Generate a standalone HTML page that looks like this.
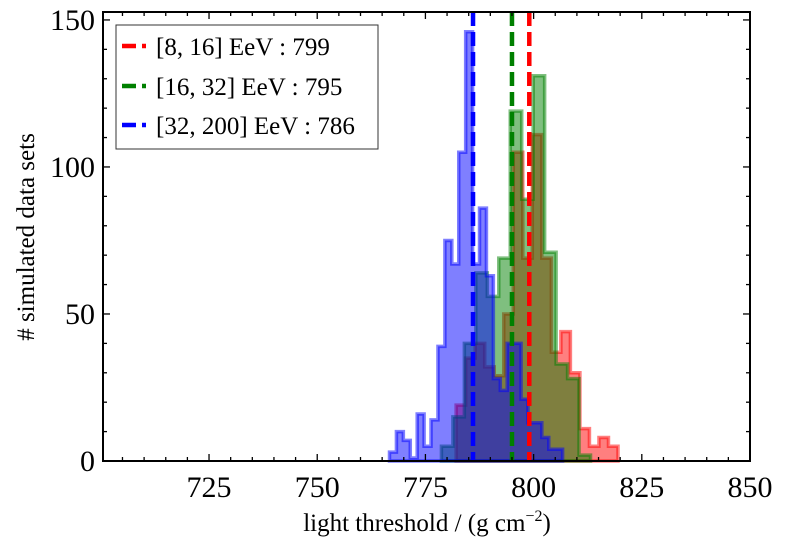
<!DOCTYPE html>
<html><head><meta charset="utf-8"><style>
body{margin:0;background:#fff}
svg text{font-family:"Liberation Serif","DejaVu Serif",serif;fill:#000}
</style></head><body>
<svg id="chart" width="786" height="550" viewBox="0 0 786 550"></svg>
<script>
const xDomain=[700.5,850], yDomain=[0,152.7];
const xTicks=[725,750,775,800,825,850];
const yTicks=[0,50,100,150];
const redStart=782.1, redWidth=2.2;
const redCounts=[19,35,40,32,29,50,105,69,111,69,37,44,30,11,5,8,5];
const greenStart=778.7, greenWidth=2.65;
const greenCounts=[5,15,40,64,56,69,119,89,131,71,33,28,2];
const blueStart=766.7, blueWidth=1.6;
const blueCounts=[3,10,7,1,16,5,14,39,75,67,105,146,67,86,63,28,24,40,40,21,13,13,8,4,4];
const medians=[799,795,786];
const seriesColors=["#ff0000","#008000","#0000ff"];

const L=103,R=750,T=12,B=461;
const sx=v=>L+(v-xDomain[0])/(xDomain[1]-xDomain[0])*(R-L);
const sy=v=>B-(v-yDomain[0])/(yDomain[1]-yDomain[0])*(B-T);
const svg=document.getElementById('chart');
const NS='http://www.w3.org/2000/svg';
function mk(tag,attrs,parent){const e=document.createElementNS(NS,tag);for(const k in attrs)e.setAttribute(k,attrs[k]);(parent||svg).appendChild(e);return e;}

function hist(start,width,counts,color,name){
  let d='M'+sx(start)+','+sy(0);
  counts.forEach((c,i)=>{d+=' L'+sx(start+i*width)+','+sy(c)+' L'+sx(start+(i+1)*width)+','+sy(c);});
  d+=' L'+sx(start+counts.length*width)+','+sy(0)+' Z';
  const p=mk('path',{d:d,fill:color,'fill-opacity':0.5,stroke:color,'stroke-opacity':0.5,'stroke-width':3.5,'stroke-linejoin':'miter'});
  
  
}
hist(redStart,redWidth,redCounts,seriesColors[0],'histogram-8-16-eev');
hist(greenStart,greenWidth,greenCounts,seriesColors[1],'histogram-16-32-eev');
hist(blueStart,blueWidth,blueCounts,seriesColors[2],'histogram-32-200-eev');

medians.forEach((m,i)=>{
  const l=mk('line',{x1:sx(m),x2:sx(m),y1:T,y2:B,stroke:seriesColors[i],'stroke-width':4.5,'stroke-dasharray':'14,6'});
  
  
});

const frame=mk('rect',{x:L,y:T,width:R-L,height:B-T,fill:'none',stroke:'#000','stroke-width':2});



for(let v=705;v<=850;v+=5){
  const major=xTicks.includes(v), len=major?7:4;
  mk('line',{x1:sx(v),x2:sx(v),y1:B,y2:B-len,stroke:'#000','stroke-width':1.3});
  mk('line',{x1:sx(v),x2:sx(v),y1:T,y2:T+len,stroke:'#000','stroke-width':1.3});
}
xTicks.forEach(v=>{
  const t=mk('text',{x:sx(v),y:B+36,'font-size':30,'text-anchor':'middle'});t.textContent=v;
  
  
});
for(let v=0;v<=150;v+=10){
  const major=yTicks.includes(v), len=major?7:4;
  mk('line',{x1:L,x2:L+len,y1:sy(v),y2:sy(v),stroke:'#000','stroke-width':1.3});
  mk('line',{x1:R,x2:R-len,y1:sy(v),y2:sy(v),stroke:'#000','stroke-width':1.3});
}
yTicks.forEach(v=>{
  const t=mk('text',{x:L-8,y:sy(v)+10,'font-size':30,'text-anchor':'end'});t.textContent=v;
  
  
});
</script>
<svg width="786" height="550" style="position:absolute;left:0;top:0">
<text x="427" y="531" font-size="25" text-anchor="middle">light threshold / (g cm<tspan dy="-10" font-size="16">−2</tspan><tspan dy="10">)</tspan></text>
<text transform="translate(34,237) rotate(-90)" font-size="25" text-anchor="middle"># simulated data sets</text>
<g>
<rect x="116" y="25" width="262" height="124" fill="#fff" stroke="#333" stroke-width="1"/>
<line x1="122" y1="46" x2="146" y2="46" stroke="#ff0000" stroke-width="4.5" stroke-dasharray="14,6"/>
<text x="156" y="55" font-size="25">[8, 16] EeV : 799</text>
<line x1="122" y1="86" x2="146" y2="86" stroke="#008000" stroke-width="4.5" stroke-dasharray="14,6"/>
<text x="156" y="95" font-size="25">[16, 32] EeV : 795</text>
<line x1="122" y1="125" x2="146" y2="125" stroke="#0000ff" stroke-width="4.5" stroke-dasharray="14,6"/>
<text x="156" y="134" font-size="25">[32, 200] EeV : 786</text>
</g>
</svg>
</body></html>
